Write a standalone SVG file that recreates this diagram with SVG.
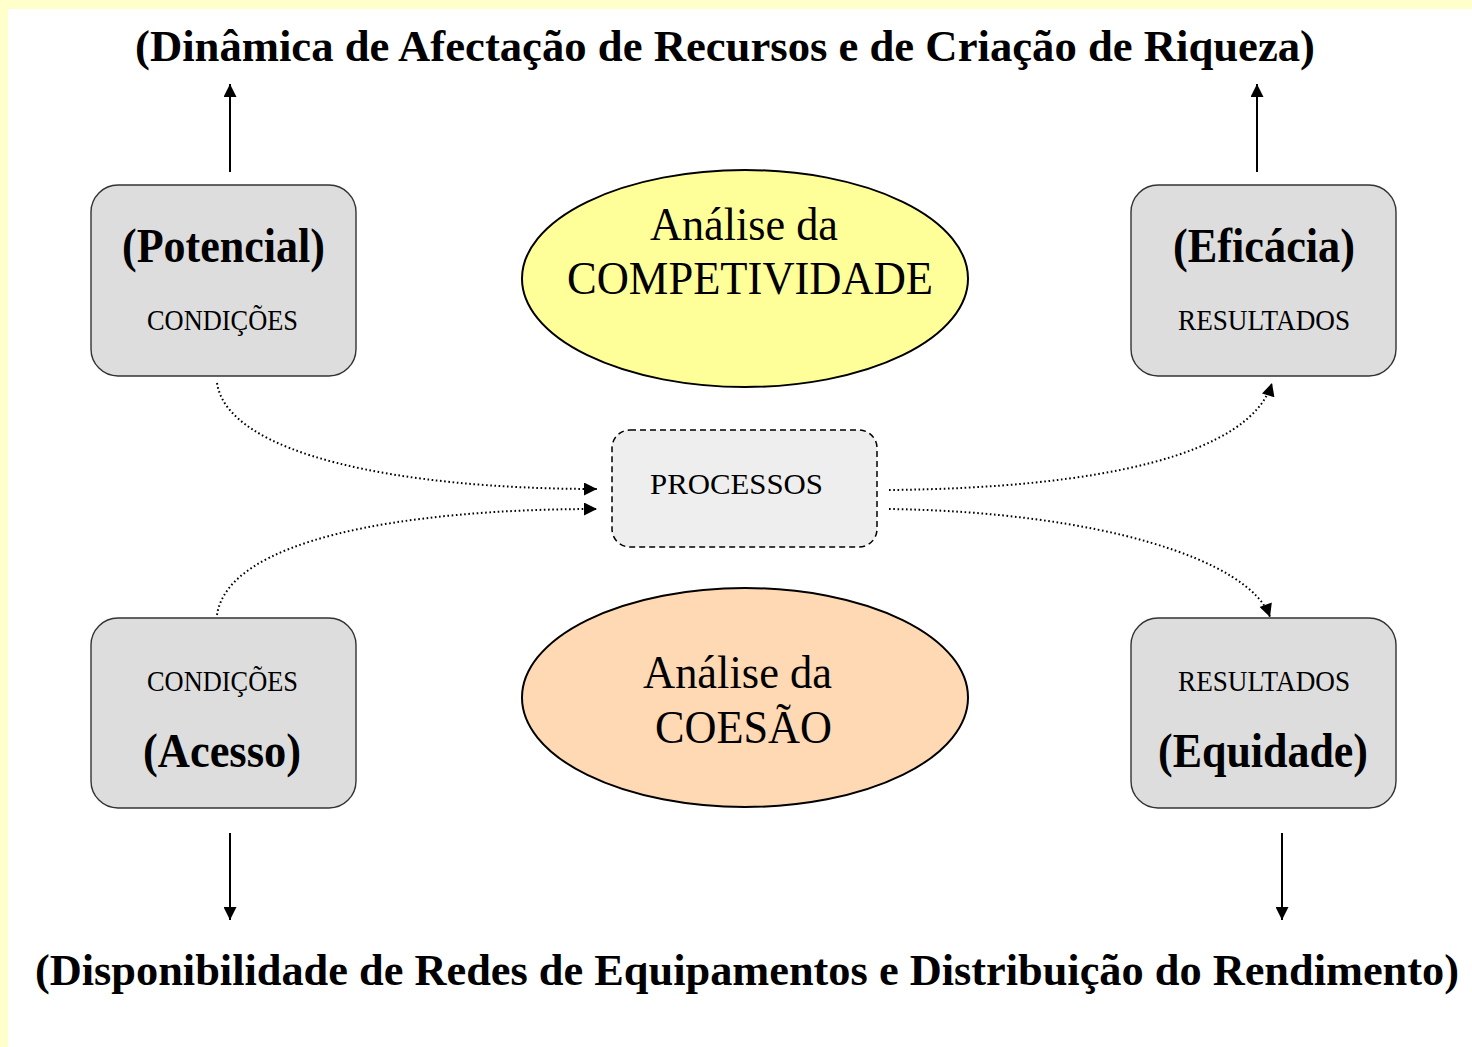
<svg xmlns="http://www.w3.org/2000/svg" width="1472" height="1047" viewBox="0 0 1472 1047">
<defs>
<style>
.t{font-family:"Liberation Serif","Times New Roman",serif;fill:#000}
.b{font-weight:bold}
.box{fill:#DDDDDD;stroke:#333;stroke-width:1.4}
.dot{fill:none;stroke:#000;stroke-width:2;stroke-dasharray:1.6 2.6}
.solid{fill:none;stroke:#000;stroke-width:2}
</style>
<marker id="ah" viewBox="0 0 10 10" refX="10" refY="5" markerWidth="14" markerHeight="13" markerUnits="userSpaceOnUse" orient="auto">
<path d="M0,0 L10,5 L0,10 Z" fill="#000"/>
</marker>
</defs>
<rect x="0" y="0" width="1472" height="1047" fill="#FFFFFF"/>
<rect x="0" y="0" width="1472" height="9" fill="#FFFFCC"/>
<rect x="0" y="0" width="8" height="1047" fill="#FFFFCC"/>

<text id="title-top" class="t b" x="135" y="61" font-size="44" textLength="1180" lengthAdjust="spacingAndGlyphs">(Dinâmica de Afectação de Recursos e de Criação de Riqueza)</text>
<text id="title-bottom" class="t b" x="35" y="985" font-size="44" textLength="1424" lengthAdjust="spacingAndGlyphs">(Disponibilidade de Redes de Equipamentos e Distribuição do Rendimento)</text>

<g id="connectors">
<line class="solid" x1="230" y1="172" x2="230" y2="84" marker-end="url(#ah)"/>
<line class="solid" x1="1257" y1="172" x2="1257" y2="84" marker-end="url(#ah)"/>
<line class="solid" x1="230" y1="833" x2="230" y2="920" marker-end="url(#ah)"/>
<line class="solid" x1="1282" y1="833" x2="1282" y2="920" marker-end="url(#ah)"/>
<path class="dot" d="M217,383 C228,455 400,489 597,489" marker-end="url(#ah)"/>
<path class="dot" d="M217,615 C228,540 400,509 597,509" marker-end="url(#ah)"/>
<path class="dot" d="M889,490 C1100,488 1250,455 1272,383" marker-end="url(#ah)"/>
<path class="dot" d="M889,509 C1100,512 1250,560 1270,617" marker-end="url(#ah)"/>
</g>

<g id="potencial">
<rect class="box" x="91" y="185" width="265" height="191" rx="27"/>
<text class="t b" x="122" y="262" font-size="48" textLength="203" lengthAdjust="spacingAndGlyphs">(Potencial)</text>
<text class="t" x="147" y="330" font-size="29" textLength="151" lengthAdjust="spacingAndGlyphs">CONDIÇÕES</text>
</g>

<g id="eficacia">
<rect class="box" x="1131" y="185" width="265" height="191" rx="27"/>
<text class="t b" x="1173" y="262" font-size="48" textLength="182" lengthAdjust="spacingAndGlyphs">(Eficácia)</text>
<text class="t" x="1178" y="330" font-size="29" textLength="172" lengthAdjust="spacingAndGlyphs">RESULTADOS</text>
</g>

<g id="acesso">
<rect class="box" x="91" y="618" width="265" height="190" rx="27"/>
<text class="t" x="147" y="691" font-size="29" textLength="151" lengthAdjust="spacingAndGlyphs">CONDIÇÕES</text>
<text class="t b" x="143" y="767" font-size="48" textLength="158" lengthAdjust="spacingAndGlyphs">(Acesso)</text>
</g>

<g id="equidade">
<rect class="box" x="1131" y="618" width="265" height="190" rx="27"/>
<text class="t" x="1178" y="691" font-size="29" textLength="172" lengthAdjust="spacingAndGlyphs">RESULTADOS</text>
<text class="t b" x="1158" y="767" font-size="48" textLength="210" lengthAdjust="spacingAndGlyphs">(Equidade)</text>
</g>

<g id="competitividade">
<ellipse cx="745" cy="278.5" rx="223" ry="108.5" fill="#FFFF99" stroke="#000" stroke-width="2"/>
<text class="t" x="650" y="240" font-size="46" textLength="188" lengthAdjust="spacingAndGlyphs">Análise da</text>
<text class="t" x="567" y="294" font-size="47" textLength="366" lengthAdjust="spacingAndGlyphs">COMPETIVIDADE</text>
</g>

<g id="coesao">
<ellipse cx="745" cy="697.5" rx="223" ry="109.5" fill="#FFD9B3" stroke="#000" stroke-width="2"/>
<text class="t" x="643" y="688" font-size="46" textLength="189" lengthAdjust="spacingAndGlyphs">Análise da</text>
<text class="t" x="655" y="743" font-size="47" textLength="177" lengthAdjust="spacingAndGlyphs">COESÃO</text>
</g>

<g id="processos">
<rect x="612" y="430" width="265" height="117" rx="18" fill="#EEEEEE" stroke="#000" stroke-width="1.5" stroke-dasharray="6 4"/>
<text class="t" x="650" y="494" font-size="30" textLength="173" lengthAdjust="spacingAndGlyphs">PROCESSOS</text>
</g>
</svg>
